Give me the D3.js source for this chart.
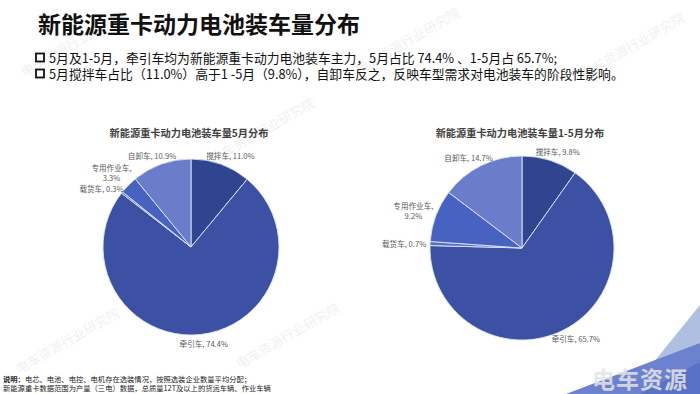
<!DOCTYPE html>
<html>
<head>
<meta charset="utf-8">
<script src="https://cdn.jsdelivr.net/npm/d3@7"></script>
<style>
  body { margin: 0; background: #fff; }
  svg { display: block; font-family: "Noto Sans CJK SC", "Noto Sans", sans-serif; }
</style>
</head>
<body>
<svg width="700" height="394"></svg>
<script>
// data
const categories = ['搅拌车', '牵引车', '载货车', '专用作业车', '自卸车']
const mayShare = [11.0, 74.4, 0.3, 3.3, 10.9]
const ytdShare = [9.8, 65.7, 0.7, 9.2, 14.7]
const sliceColors = ['#2f4590', '#3c51a3', '#5a6ec0', '#4862c2', '#6b7dca']

const svg = d3.select('svg')
const width = +svg.attr('width')
const height = +svg.attr('height')

// watermark, faint
const marks = [[75, 48], [410, 45], [635, 50], [265, 135], [490, 195], [290, 340], [70, 345]]
marks.forEach(([x, y]) => {
  svg.append('text')
    .attr('transform', `translate(${x},${y}) rotate(-30)`)
    .attr('text-anchor', 'middle')
    .style('font-size', '13px')
    .style('fill', '#000')
    .style('opacity', 0.06)
    .text('电车资源行业研究院')
})

// corner decoration
svg.append('polygon')
  .attr('points', `${width},305 ${width},${height} 628,${height}`)
  .style('fill', '#aebfe2')
svg.append('polygon')
  .attr('points', `566,${height} ${width},343 ${width},${height}`)
  .style('fill', '#6c82cf')
svg.append('polygon')
  .attr('points', `640,${height} ${width},362 ${width},${height}`)
  .style('fill', '#4d65c0')
  .style('opacity', 0.6)
svg.append('text')
  .attr('x', 640).attr('y', 388)
  .attr('text-anchor', 'middle')
  .style('font-size', '23px').style('font-weight', 'bold')
  .style('fill', '#e4e4e4').style('opacity', 0.85)
  .style('letter-spacing', '1px')
  .text('电车资源')

// title + bullets
svg.append('text')
  .attr('x', 38).attr('y', 33)
  .style('font-size', '23px').style('font-weight', 'bold')
  .style('fill', '#111')
  .text('新能源重卡动力电池装车量分布')

const bullets = [
  '5月及1-5月，牵引车均为新能源重卡动力电池装车主力，5月占比 74.4% 、1-5月占 65.7%;',
  '5月搅拌车占比（11.0%）高于1 -5月（9.8%），自卸车反之，反映车型需求对电池装车的阶段性影响。'
]
const bulletText = svg.append('text')
  .attr('y', 63)
  .style('font-size', '12.8px').style('fill', '#111')
bullets.forEach((t, i) => {
  svg.append('rect')
    .attr('x', 36).attr('y', 63 + i * 16 - 9.5)
    .attr('width', 8).attr('height', 8)
    .style('fill', 'none').style('stroke', '#111').style('stroke-width', 1.8)
  bulletText.append('tspan')
    .attr('x', 49).attr('dy', i ? 16 : 0)
    .text(t)
})

// pies
function drawPie(cx, cy, r, title, values) {
  const g = svg.append('g').attr('transform', `translate(${cx},${cy})`)
  const pie = d3.pie().sort(null).value(d => d.v)
  const arc = d3.arc().innerRadius(0).outerRadius(r)
  const arcs = pie(categories.map((c, i) => ({ c, v: values[i], i })))

  g.selectAll('path').data(arcs).join('path')
    .attr('d', arc)
    .style('fill', d => sliceColors[d.data.i])
    .style('stroke', '#dfe5f7')
    .style('stroke-width', 0.9)

  svg.append('text')
    .attr('x', cx - 2).attr('y', 137)
    .attr('text-anchor', 'middle')
    .style('font-size', '10.2px').style('font-weight', 'bold')
    .style('fill', '#404040')
    .text(title)

  const labels = arcs.map(d => {
    const a = (d.startAngle + d.endAngle) / 2
    const name = d.data.c
    const val = d.data.v.toFixed(1) + '%'
    const lines = name.length > 3 ? [name + ',', val] : [name + ', ' + val]
    const t = g.append('text')
      .attr('text-anchor', 'middle')
      .style('font-size', '7.6px').style('fill', '#595959')
    lines.forEach((l, k) => t.append('tspan').attr('x', 0).attr('dy', k ? 10 : 0).text(l))
    const box = t.node().getBBox()
    const rr = r + 4
    return {
      t, box,
      x: rr * Math.sin(a) + box.width / 2 * Math.sin(a),
      y: -rr * Math.cos(a) - box.height / 2 * Math.cos(a)
    }
  })
  // push apart labels that collide (thin slices sit side by side)
  for (let i = 0; i < labels.length; i++) {
    for (let j = i + 1; j < labels.length; j++) {
      const p = labels[i], q = labels[j]
      const overlapX = Math.abs(p.x - q.x) < (p.box.width + q.box.width) / 2
      const gap = (p.box.height + q.box.height) / 2
      const dy = Math.abs(p.y - q.y)
      if (overlapX && dy < gap) {
        const s = (gap - dy) / 2
        if (p.y < q.y) { p.y -= s; q.y += s } else { p.y += s; q.y -= s }
      }
    }
  }
  labels.forEach(l => {
    const oy = l.y - (l.box.y + l.box.height / 2)
    l.t.attr('transform', `translate(${l.x},${oy})`)
  })
}

drawPie(191, 247, 88, '新能源重卡动力电池装车量5月分布', mayShare)
drawPie(522, 248, 92, '新能源重卡动力电池装车量1-5月分布', ytdShare)

// note
svg.append('text')
  .attr('x', 3).attr('y', 382)
  .style('font-size', '7.3px').style('fill', '#222')
  .call(t => {
    t.append('tspan').style('font-weight', 'bold').text('说明：')
    t.append('tspan').text('电芯、电池、电控、电机存在选装情况，按照选装企业数量平均分配；')
  })
svg.append('text')
  .attr('x', 3).attr('y', 391)
  .style('font-size', '7.3px').style('fill', '#222')
  .text('新能源重卡数据范围为产量（三电）数据，总质量12T及以上的货运车辆、作业车辆')
</script>
</body>
</html>
